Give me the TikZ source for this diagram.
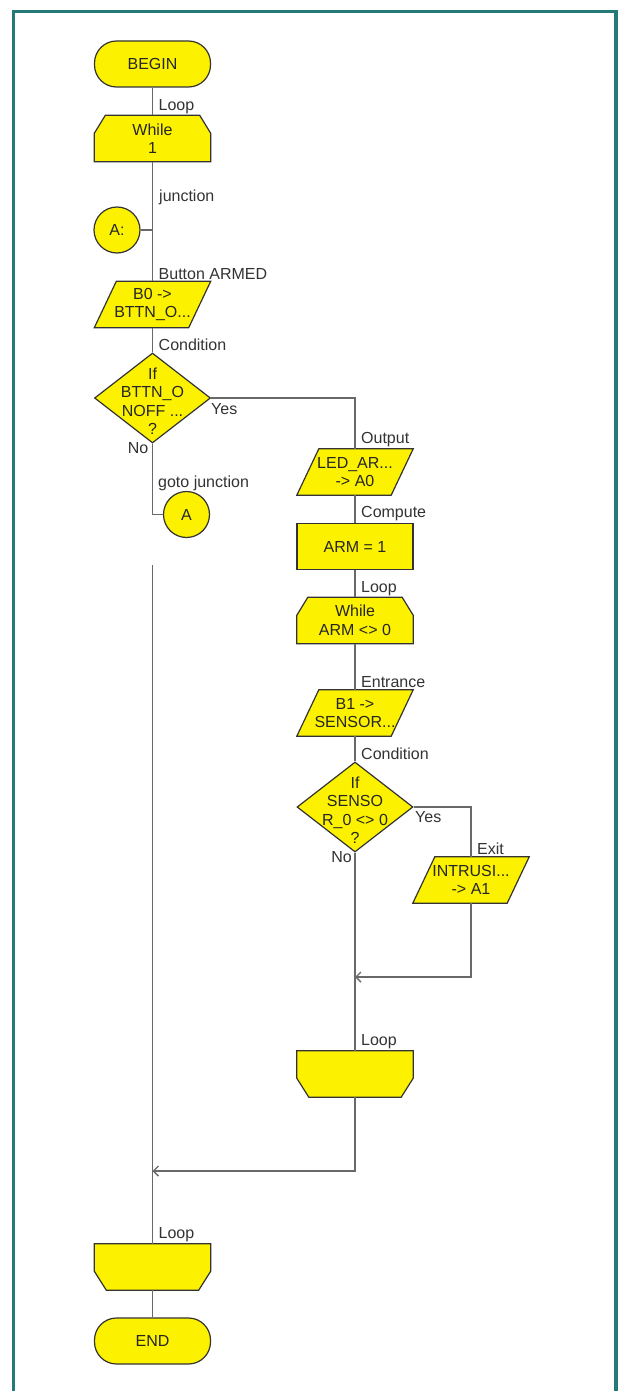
\documentclass[tikz,border=0pt]{standalone}
\usepackage{fontspec}
\setmainfont{Liberation Sans}
\usetikzlibrary{shapes.geometric,arrows.meta,backgrounds}
\definecolor{fy}{RGB}{252,242,0}
\definecolor{frame}{RGB}{35,122,118}
\definecolor{ln}{RGB}{105,105,105}
\begin{document}
\begin{tikzpicture}[x=1pt,y=-1pt,
  font=\fontsize{16}{18.5}\selectfont,
  shp/.style={draw=black!80, fill=fy, line width=1.2pt, inner sep=0pt, text=black!85},
  shpd/.style={draw=black!80, fill=fy, line width=1.2pt},
  term/.style={shp, rectangle, rounded corners=22pt, minimum width=116pt, minimum height=46pt},
  boxn/.style={rectangle, minimum width=116pt, minimum height=46pt, inner sep=0pt, align=center, text=black!85},
  proc/.style={shp, rectangle, minimum width=116pt, minimum height=46pt},
  dec/.style={shp, diamond, minimum width=116pt, minimum height=90pt},
  circ/.style={shp, circle, minimum size=46pt},
  txt/.style={align=center, text=black!85, inner sep=0pt},
  lbl/.style={anchor=south west, inner sep=1.5pt, text=black!80},
  side/.style={inner sep=0pt, text=black!80},
  con/.style={draw=ln, line width=1.4pt},
  arr/.style={con, -{Straight Barb[length=5pt, width=10pt]}}
]
\useasboundingbox (0,0) rectangle (622,1391);

% left column
\node[term] (begin) at (152.5,64) {BEGIN};
\node[boxn] (w1) at (152.5,138.5) {While\\1};
\node[circ] (ja) at (117,230) {A:};
\node[boxn] (btn) at (152.5,304.5) {B0 ->\\BTTN\_O...};
\node[dec] (d1) at (152.5,398) {};
\node[txt] (d1t) at ([yshift=-3pt]d1) {If\\BTTN\_O\\NOFF ...\\?};
\node[circ] (ga) at (186.5,514.5) {A};
\coordinate (ls) at (152.5,565);
\coordinate (m2) at (152.5,1171);
\node[boxn] (le1) at (152.5,1267) {};
\node[term] (end) at (152.5,1341) {END};

% right column
\node[boxn] (led) at (355,472) {LED\_AR...\\-> A0};
\node[proc] (arm) at (355,546.5) {ARM = 1};
\node[boxn] (w2) at (355,620.5) {While\\ARM <> 0};
\node[boxn] (b1) at (355,713) {B1 ->\\SENSOR...};
\node[dec] (d2) at (355,807) {};
\node[txt] (d2t) at ([yshift=-3pt]d2) {If\\SENSO\\R\_0 <> 0\\?};
\node[boxn] (intr) at (471,880) {INTRUSI...\\-> A1};
\coordinate (m1) at (355,977);
\node[boxn] (le2) at (355,1074) {};

\begin{scope}[on background layer]
\fill[white] (0,0) rectangle (622,1391);
\draw[frame, line width=3.5pt] (13.5,1400) -- (13.5,11.5) -- (616,11.5) -- (616,1400);
% loop starts
\foreach \n in {w1,w2}{
  \draw[shpd] ([xshift=11pt]\n.north west) -- ([xshift=-11pt]\n.north east)
    -- ([yshift=-18pt]\n.north east) -- (\n.south east) -- (\n.south west)
    -- ([yshift=-18pt]\n.north west) -- cycle;
}
% loop ends
\foreach \n in {le1,le2}{
  \draw[shpd] (\n.north west) -- (\n.north east) -- ([yshift=19pt]\n.south east)
    -- ([xshift=-12pt]\n.south east) -- ([xshift=12pt]\n.south west)
    -- ([yshift=19pt]\n.south west) -- cycle;
}
% input / output
\foreach \n in {btn,led,b1,intr}{
  \draw[shpd] ([xshift=22pt]\n.north west) -- (\n.north east)
    -- ([xshift=-22pt]\n.south east) -- (\n.south west) -- cycle;
}
\end{scope}

% connectors
\draw[con] (begin) -- (w1);
\draw[con] (w1) -- (btn);
\draw[con] (ja) -- (ja -| w1);
\draw[con] (btn) -- (d1);
\draw[con] (d1.south) |- (ga);
\draw[con] (d1.east) -| (led);
\draw[con] (led) -- (arm);
\draw[con] (arm) -- (w2);
\draw[con] (w2) -- (b1);
\draw[con] (b1) -- (d2);
\draw[con] (d2.east) -| (intr);
\draw[arr] (intr) |- (m1);
\draw[con] (d2) -- (le2);
\draw[arr] (le2) |- (m2);
\draw[con] (ls) -- (le1);
\draw[con] (le1) -- (end);

% labels
\node[lbl] (l1) at ([xshift=4.5pt]w1.north) {Loop};
\node[lbl] (l2) at (157.5,207) {junction};
\node[lbl] (l3) at ([xshift=4.5pt]btn.north) {Button ARMED};
\node[lbl] (l4) at ([xshift=4.5pt]d1.north) {Condition};
\node[side, anchor=north west] (y1) at (211,403) {Yes};
\node[side, anchor=north east] (n1) at (148.5,442) {No};
\node[lbl] (l5) at (156.5,493) {goto junction};
\node[lbl] (l6) at ([xshift=4.5pt]led.north) {Output};
\node[lbl] (l7) at ([xshift=4.5pt]arm.north) {Compute};
\node[lbl] (l8) at ([xshift=4.5pt]w2.north) {Loop};
\node[lbl] (l9) at ([xshift=4.5pt]b1.north) {Entrance};
\node[lbl] (l10) at ([xshift=4.5pt]d2.north) {Condition};
\node[side, anchor=north west] (y2) at (415,811) {Yes};
\node[side, anchor=north east] (n2) at (352,851) {No};
\node[lbl] (l11) at ([xshift=4.5pt]intr.north) {Exit};
\node[lbl] (l12) at ([xshift=4.5pt]le2.north) {Loop};
\node[lbl] (l13) at ([xshift=4.5pt]le1.north) {Loop};
\end{tikzpicture}
\end{document}
